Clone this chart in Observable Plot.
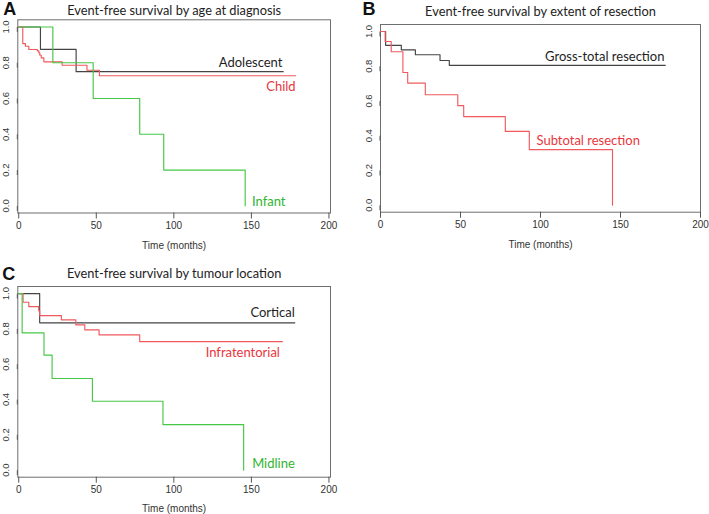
<!DOCTYPE html>
<html><head><meta charset="utf-8">
<script src="https://cdn.jsdelivr.net/npm/d3@7"></script>
<script src="https://cdn.jsdelivr.net/npm/@observablehq/plot@0.6"></script>
<style>
body{margin:0;background:#fff;}
#root{position:relative;width:709px;height:514px;overflow:hidden;background:#fff;}
#root svg{position:absolute;}
</style></head><body><div id="root"></div>
<script>
// ---------- Panel A: age at diagnosis ----------
const adolescentTime = [0, 14, 37, 170.5];
const adolescentSurv = [1, 0.875, 0.75, 0.75];
const childTime = [0, 2.6, 4.3, 6.5, 12, 13, 13.6, 14.5, 16.2, 28, 44, 52, 178.5];
const childSurv = [1, 0.907, 0.892, 0.874, 0.866, 0.855, 0.842, 0.827, 0.805, 0.786, 0.758, 0.727, 0.727];
const infantTime = [0, 22, 48, 78, 93.5, 146];
const infantSurv = [1, 0.8, 0.6, 0.4, 0.2, 0];

// ---------- Panel B: extent of resection ----------
const grossTime = [0, 3.2, 13, 21.8, 37.2, 43, 178];
const grossSurv = [1, 0.92, 0.894, 0.866, 0.833, 0.805, 0.805];
const subtotalTime = [0, 2.9, 6.7, 14, 17, 28, 48.3, 52, 78, 93, 145];
const subtotalSurv = [1, 0.942, 0.883, 0.764, 0.703, 0.636, 0.573, 0.51, 0.425, 0.32, 0];

// ---------- Panel C: tumour location ----------
const corticalTime = [0, 13.5, 178];
const corticalSurv = [1, 0.834, 0.834];
const infraTime = [0, 2.8, 6.5, 12.9, 13.5, 27.5, 36.8, 42.6, 51.8, 78, 170];
const infraSurv = [1, 0.951, 0.926, 0.902, 0.875, 0.851, 0.823, 0.794, 0.766, 0.728, 0.728];
const midlineTime = [0, 2.2, 16.3, 21.5, 47.5, 93, 145];
const midlineSurv = [1, 0.777, 0.651, 0.519, 0.39, 0.258, 0];

// ---------- texts ----------
const panelLetters = ["A", "B", "C"];
const panelTitles = [
  "Event-free survival by age at diagnosis",
  "Event-free survival by extent of resection",
  "Event-free survival by tumour location"
];
const xAxisTitle = "Time (months)";
const xTicks = [0, 50, 100, 150, 200];
const yTicks = [0, 0.2, 0.4, 0.6, 0.8, 1.0];

const seriesNamesA = ["Adolescent", "Child", "Infant"];
const seriesNamesB = ["Gross-total resection", "Subtotal resection"];
const seriesNamesC = ["Cortical", "Infratentorial", "Midline"];

const BLACK = "#444444", RED = "#f05a5e", GREEN = "#45c845";
const TBLACK = "#1e1e1e", TRED = "#e8363c", TGREEN = "#2fb52f";

function steps(times, surv) { return times.map((t, i) => ({time: t, surv: surv[i]})); }

const root = document.getElementById("root");

function panel(cfg) {
  const marks = [
    Plot.frame({stroke: "#6e6e6e", strokeWidth: 1}),
    Plot.axisX({ticks: xTicks, tickSize: 6, tickPadding: 3, fontSize: 10, stroke: "#555", fill: "#333", label: null}),
    Plot.axisY({ticks: yTicks, tickFormat: d3.format(".1f"), tickSize: 5, tickPadding: 6.5, fontSize: 9.5,
      rotate: -90, textAnchor: "middle", stroke: "#555", fill: "#333", label: null}),
    Plot.text([xAxisTitle], {frameAnchor: "bottom", lineAnchor: "middle", dy: cfg.xLabelDy, text: d => d, fontSize: 10, fill: "#333"}),
    Plot.text([cfg.title], {frameAnchor: "top", lineAnchor: "middle", dy: cfg.titleDy, dx: cfg.titleDx || 0, text: d => d,
      fontFamily: "Lato, 'Open Sans', sans-serif", fontSize: cfg.titleSize, fill: "#222"}),
    Plot.text([cfg.letter], {frameAnchor: "top-left", lineAnchor: "middle", textAnchor: "start", dx: cfg.letterDx, dy: cfg.letterDy,
      text: d => d, fontFamily: "'Liberation Sans', Arial, sans-serif", fontWeight: "bold", fontSize: 18, fill: "#111"})
  ];
  for (const s of cfg.series) {
    marks.push(Plot.line(steps(s.time, s.surv), {x: "time", y: "surv", curve: "step-after", stroke: s.color, strokeWidth: 1.15}));
  }
  for (const l of cfg.labels) {
    marks.push(Plot.text([l], {x: "x", y: "y", text: "text", textAnchor: l.anchor, lineAnchor: "middle", fill: l.color,
      fontFamily: "Lato, 'Open Sans', sans-serif", fontSize: cfg.labelSize}));
  }
  const svg = Plot.plot({
    width: cfg.width, height: cfg.height,
    marginLeft: cfg.ml, marginRight: cfg.mr, marginTop: cfg.mt, marginBottom: cfg.mb,
    x: {domain: cfg.xDomain},
    y: {domain: [-0.04, 1.04]},
    style: {fontFamily: "'Liberation Sans', Arial, sans-serif", fontSize: "10px", background: "transparent", overflow: "visible"},
    marks
  });
  svg.style.left = cfg.left + "px";
  svg.style.top = cfg.top + "px";
  root.appendChild(svg);
}

panel({
  left: 0, top: 0, width: 345, height: 255, ml: 17.3, mr: 15, mt: 19.3, mb: 42.5,
  xDomain: [-0.6, 201], xLabelDy: 32.5, titleDy: -8.5, titleSize: 12.8, labelSize: 13,
  letter: panelLetters[0], letterDx: -14.5, letterDy: -10.5, title: panelTitles[0],
  series: [
    {time: adolescentTime, surv: adolescentSurv, color: BLACK},
    {time: childTime, surv: childSurv, color: RED},
    {time: infantTime, surv: infantSurv, color: GREEN}
  ],
  labels: [
    {text: seriesNamesA[0], x: 170, y: 0.80, anchor: "end", color: TBLACK},
    {text: seriesNamesA[1], x: 178.5, y: 0.663, anchor: "end", color: TRED},
    {text: seriesNamesA[2], x: 172, y: 0.02, anchor: "end", color: TGREEN}
  ]
});

panel({
  left: 345, top: 0, width: 364, height: 255, ml: 35, mr: 9, mt: 24, mb: 43.3,
  xDomain: [0, 200], xLabelDy: 33, titleDy: -13, titleSize: 12.8, labelSize: 13,
  letter: panelLetters[1], letterDx: -18, letterDy: -15.2, title: panelTitles[1],
  series: [
    {time: grossTime, surv: grossSurv, color: BLACK},
    {time: subtotalTime, surv: subtotalSurv, color: RED}
  ],
  labels: [
    {text: seriesNamesB[0], x: 177.5, y: 0.856, anchor: "end", color: TBLACK},
    {text: seriesNamesB[1], x: 97.5, y: 0.373, anchor: "start", color: TRED}
  ]
});

panel({
  left: 0, top: 255, width: 345, height: 259, ml: 17.3, mr: 15, mt: 31, mb: 37.3,
  xDomain: [-0.6, 201], xLabelDy: 32, titleDy: -12.7, titleSize: 12.8, labelSize: 13,
  letter: panelLetters[2], letterDx: -15.5, letterDy: -12.5, title: panelTitles[2],
  series: [
    {time: corticalTime, surv: corticalSurv, color: BLACK},
    {time: infraTime, surv: infraSurv, color: RED},
    {time: midlineTime, surv: midlineSurv, color: GREEN}
  ],
  labels: [
    {text: seriesNamesC[0], x: 178, y: 0.889, anchor: "end", color: TBLACK},
    {text: seriesNamesC[1], x: 168.4, y: 0.663, anchor: "end", color: TRED},
    {text: seriesNamesC[2], x: 178, y: 0.034, anchor: "end", color: TGREEN}
  ]
});
</script>
</body></html>
